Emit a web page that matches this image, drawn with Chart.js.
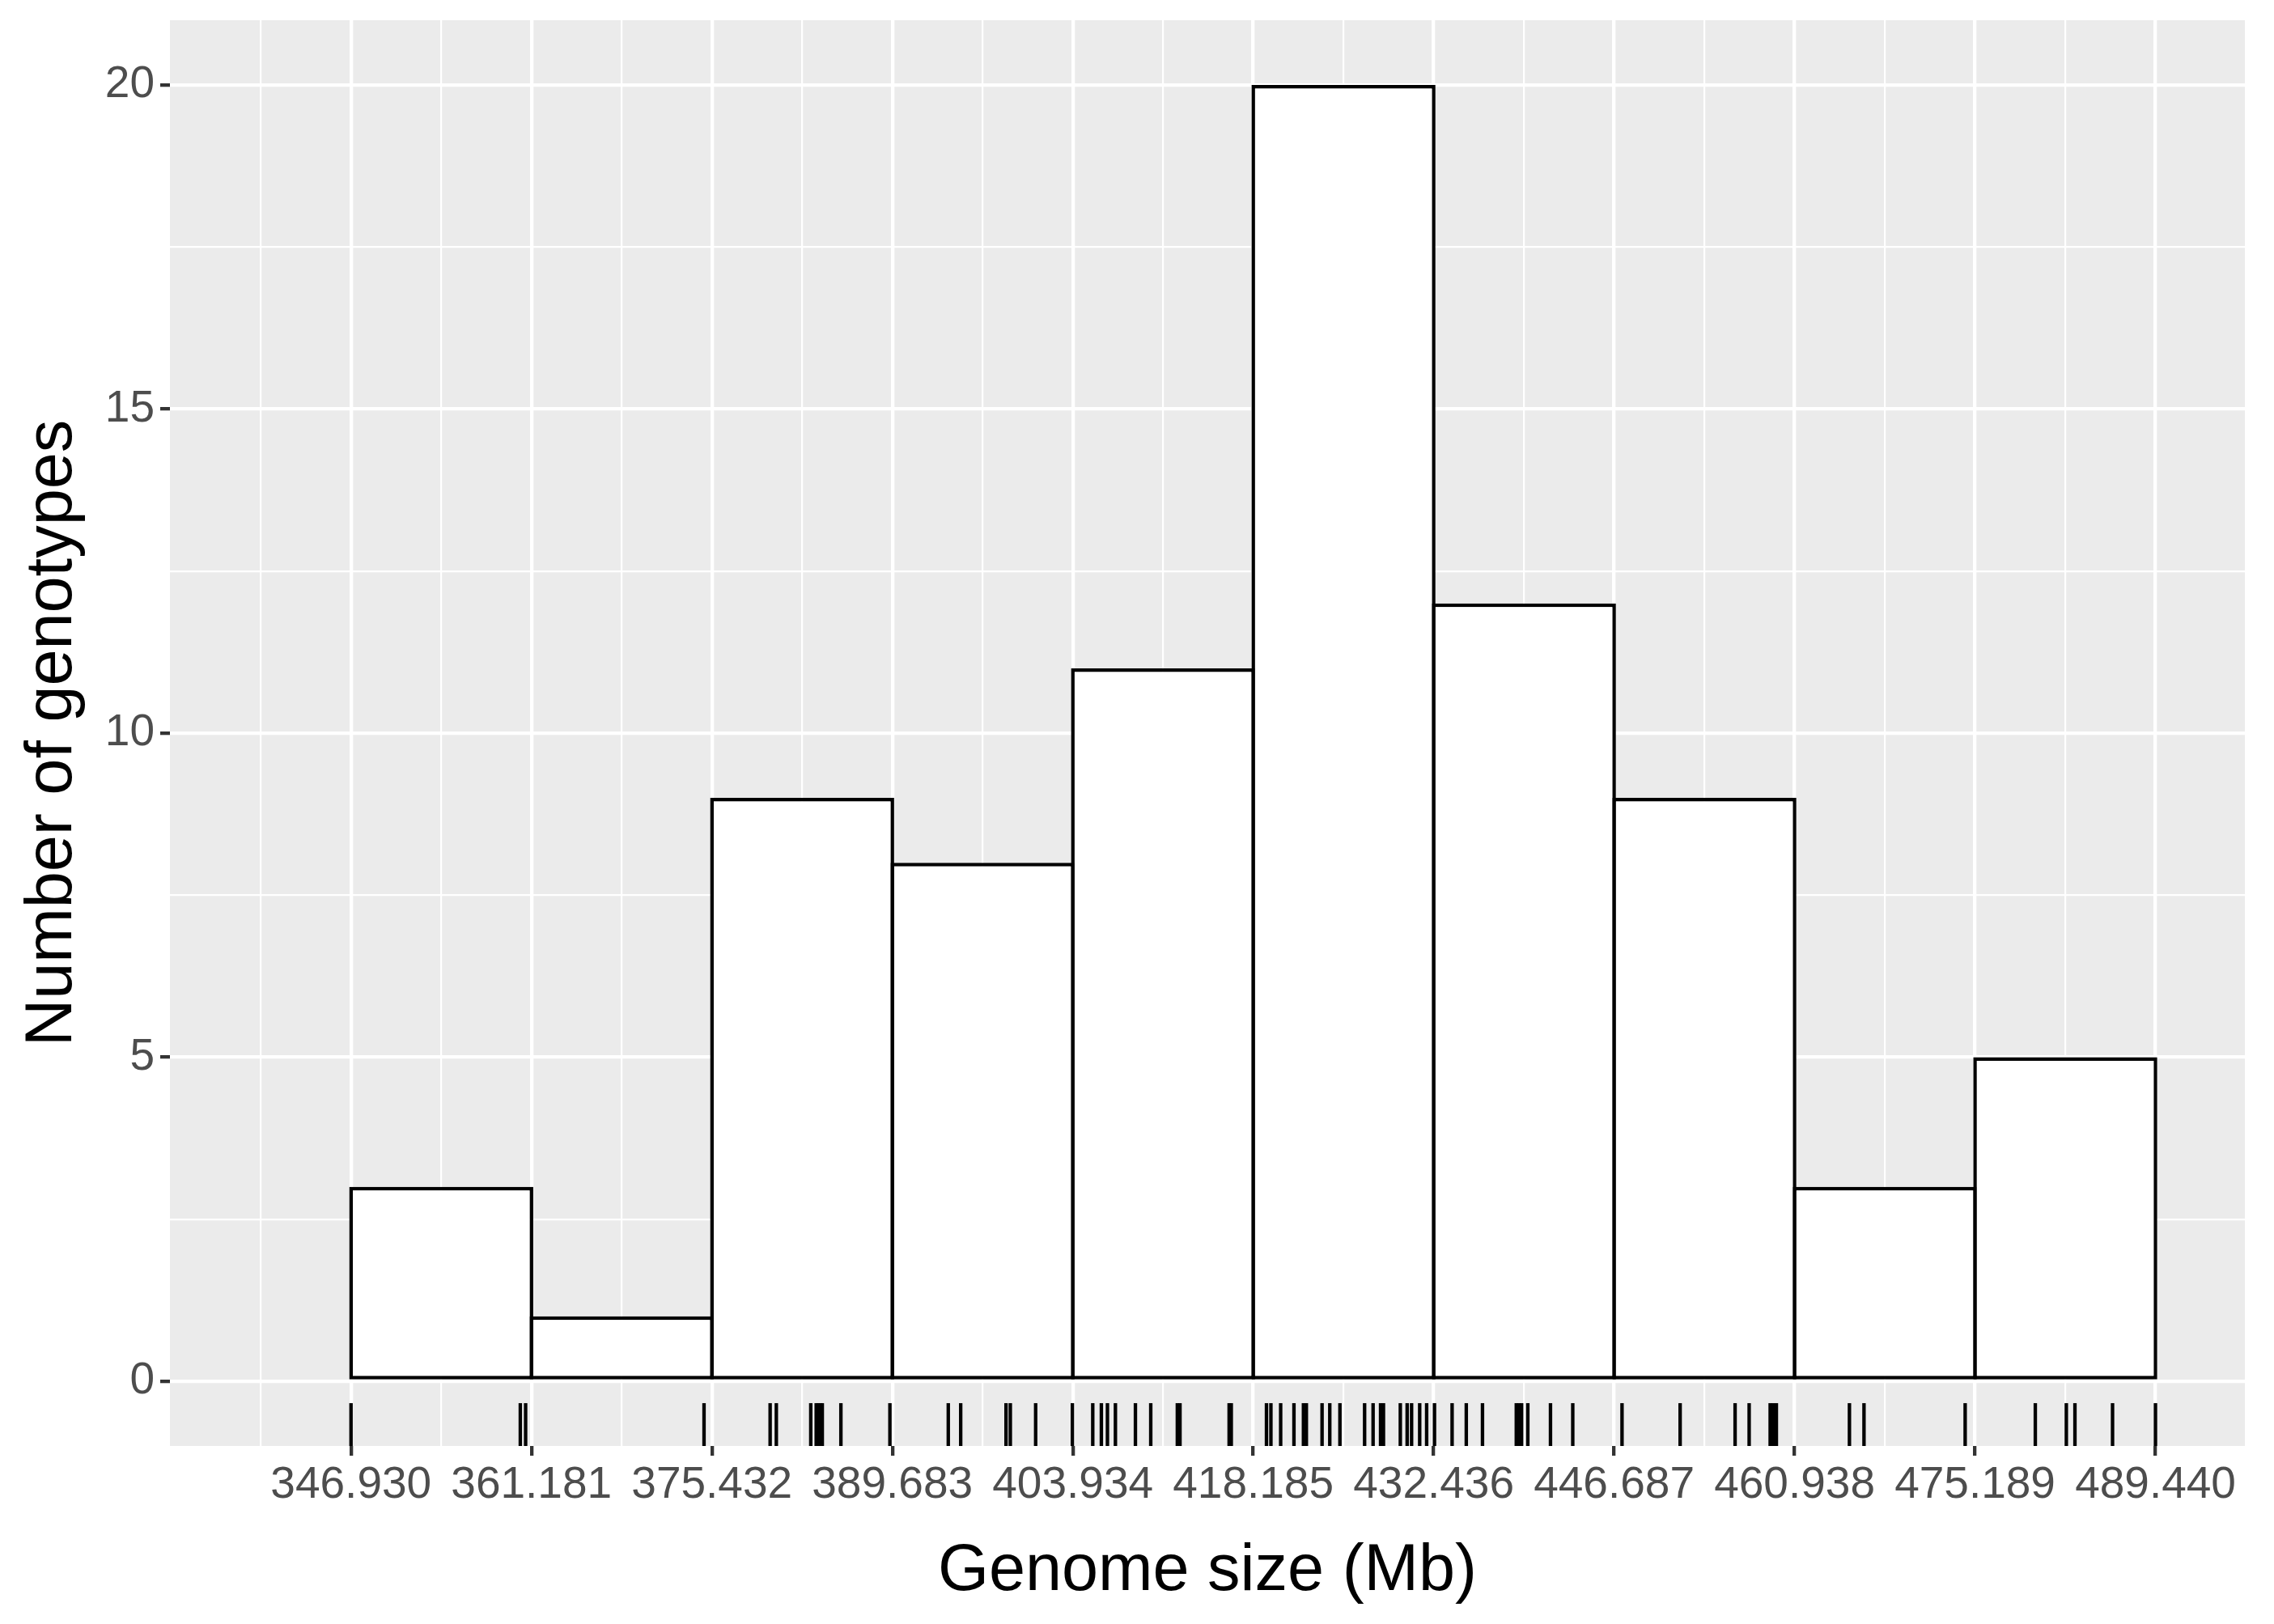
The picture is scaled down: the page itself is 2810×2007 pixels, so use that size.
<!DOCTYPE html>
<html>
<head>
<meta charset="utf-8">
<script src="https://cdn.jsdelivr.net/npm/chart.js@4.4.1/dist/chart.umd.min.js"></script>
<style>
  html, body { margin: 0; padding: 0; background: #ffffff; }
  #chart { display: block; }
</style>
</head>
<body>
<canvas id="chart" width="2810" height="2007"></canvas>
<script>
// histogram bins (Mb) - the edges are also the x axis breaks
const binEdges = [346.930, 361.181, 375.432, 389.683, 403.934, 418.185, 432.436, 446.687, 460.938, 475.189, 489.440];
const binCounts = [3, 1, 9, 8, 11, 20, 12, 9, 3, 5];

// genome sizes drawn as the rug under the bars (some overlap in the picture)
const genomeSizes = [
    346.93, 360.30, 360.72,
    374.81,
    380.03, 380.52, 383.24, 383.67, 383.83, 383.99, 384.15, 385.62, 389.49,
    394.10, 395.08, 398.66, 399.00, 401.00, 403.90,
    405.51, 406.19, 406.67, 407.30, 408.88, 410.09, 412.19, 412.40, 416.28, 416.45,
    419.23, 419.58, 420.35, 421.40, 422.15, 422.38, 423.62, 424.23, 425.03, 426.98,
    427.65, 428.24, 428.47, 429.80, 430.34, 430.69, 431.33, 431.88,
    432.50, 433.89, 435.01, 436.29, 438.96, 439.17, 439.38, 439.87, 441.66, 443.42,
    447.31, 451.90, 456.24, 457.35, 459.01, 459.24, 459.50,
    465.27, 466.42, 474.41,
    479.95, 482.40, 483.08, 486.05, 489.44
];

const yTicks = [0, 5, 10, 15, 20];

const xMin = 332.63, xMax = 496.5;
const yMin = -1, yMax = 21;

// major + minor grid positions (minor halfway between breaks, like ggplot)
const binWidth = binEdges[1] - binEdges[0];
const xGrid = [];
binEdges.forEach((e, i) => {
    if (i === 0) xGrid.push(e - binWidth / 2);
    xGrid.push(e);
    xGrid.push(e + binWidth / 2);
});
const yGrid = [];
yTicks.forEach(t => { yGrid.push(t); yGrid.push(t + 2.5); });

const isMajorX = v => binEdges.includes(v);
const isMajorY = v => yTicks.includes(v);
const tickVal = c => (c && c.tick) ? c.tick.value : NaN;

const histData = binCounts.map((c, i) => ({ x: (binEdges[i] + binEdges[i + 1]) / 2, y: c }));
const rugY = yMin + 0.015 * (yMax - yMin);
const rugData = genomeSizes.map(v => ({ x: v, y: rugY }));

const FONT = "'Liberation Sans', Arial, sans-serif";

// grey panel background
const panelBg = {
    id: 'panelBg',
    beforeDraw(chart) {
        const { ctx, chartArea: a } = chart;
        ctx.save();
        ctx.fillStyle = '#EBEBEB';
        ctx.fillRect(a.left, a.top, a.right - a.left, a.bottom - a.top);
        ctx.restore();
    }
};

const ctx = document.getElementById('chart').getContext('2d');
new Chart(ctx, {
    type: 'bar',
    data: {
        datasets: [
            {
                label: 'Genotypes',
                data: histData,
                backgroundColor: '#FFFFFF',
                borderColor: '#000000',
                borderWidth: 4.5,
                borderSkipped: false,
                // bar ruler sees the half-bin grid ticks, so 2x (+ a little so neighbour outlines overlap)
                barPercentage: 2.04,
                categoryPercentage: 1,
                order: 2
            },
            {
                type: 'scatter',
                label: 'Rug',
                data: rugData,
                pointStyle: 'line',
                rotation: 90,
                pointRadius: 26.5,
                pointHoverRadius: 26.5,
                borderColor: '#000000',
                borderWidth: 4.3,
                order: 1
            }
        ]
    },
    options: {
        responsive: false,
        animation: false,
        devicePixelRatio: 1,
        layout: { autoPadding: false, padding: { top: 25, right: 36, left: 0, bottom: 0 } },
        plugins: {
            legend: { display: false },
            tooltip: { enabled: false }
        },
        scales: {
            x: {
                type: 'linear',
                min: xMin,
                max: xMax,
                offset: false,
                afterBuildTicks: s => { s.ticks = xGrid.filter(v => v >= xMin && v <= xMax).map(v => ({ value: v })); },
                afterFit: s => { s.height = 220; },
                border: { display: false },
                grid: {
                    offset: false,
                    color: '#FFFFFF',
                    lineWidth: c => isMajorX(tickVal(c)) ? 4.3 : 2.2,
                    drawTicks: true,
                    tickLength: 12,
                    tickWidth: 4.3,
                    tickColor: c => isMajorX(tickVal(c)) ? '#333333' : 'rgba(0,0,0,0)'
                },
                ticks: {
                    autoSkip: false,
                    maxRotation: 0,
                    minRotation: 0,
                    padding: 9,
                    color: '#4D4D4D',
                    font: { family: FONT, size: 55, lineHeight: 1 },
                    callback: v => isMajorX(v) ? v.toFixed(3) : ''
                },
                title: {
                    display: true,
                    text: 'Genome size (Mb)',
                    color: '#000000',
                    font: { family: FONT, size: 81 },
                    padding: { top: 0, bottom: 16 }
                }
            },
            y: {
                type: 'linear',
                min: yMin,
                max: yMax,
                afterBuildTicks: s => { s.ticks = yGrid.filter(v => v >= yMin && v <= yMax).map(v => ({ value: v })); },
                afterFit: s => { s.width = 210; s.paddingTop = 0; s.paddingBottom = 0; },
                border: { display: false },
                grid: {
                    color: '#FFFFFF',
                    lineWidth: c => isMajorY(tickVal(c)) ? 4.3 : 2.2,
                    drawTicks: true,
                    tickLength: 12,
                    tickWidth: 4.3,
                    tickColor: c => isMajorY(tickVal(c)) ? '#333333' : 'rgba(0,0,0,0)'
                },
                ticks: {
                    autoSkip: false,
                    padding: 7,
                    color: '#4D4D4D',
                    font: { family: FONT, size: 55, lineHeight: 1 },
                    callback: v => isMajorY(v) ? String(v) : ''
                },
                title: {
                    display: true,
                    text: 'Number of genotypes',
                    color: '#000000',
                    font: { family: FONT, size: 81 },
                    padding: { top: 17, bottom: 0 }
                }
            }
        }
    },
    plugins: [panelBg]
});
</script>
</body>
</html>
